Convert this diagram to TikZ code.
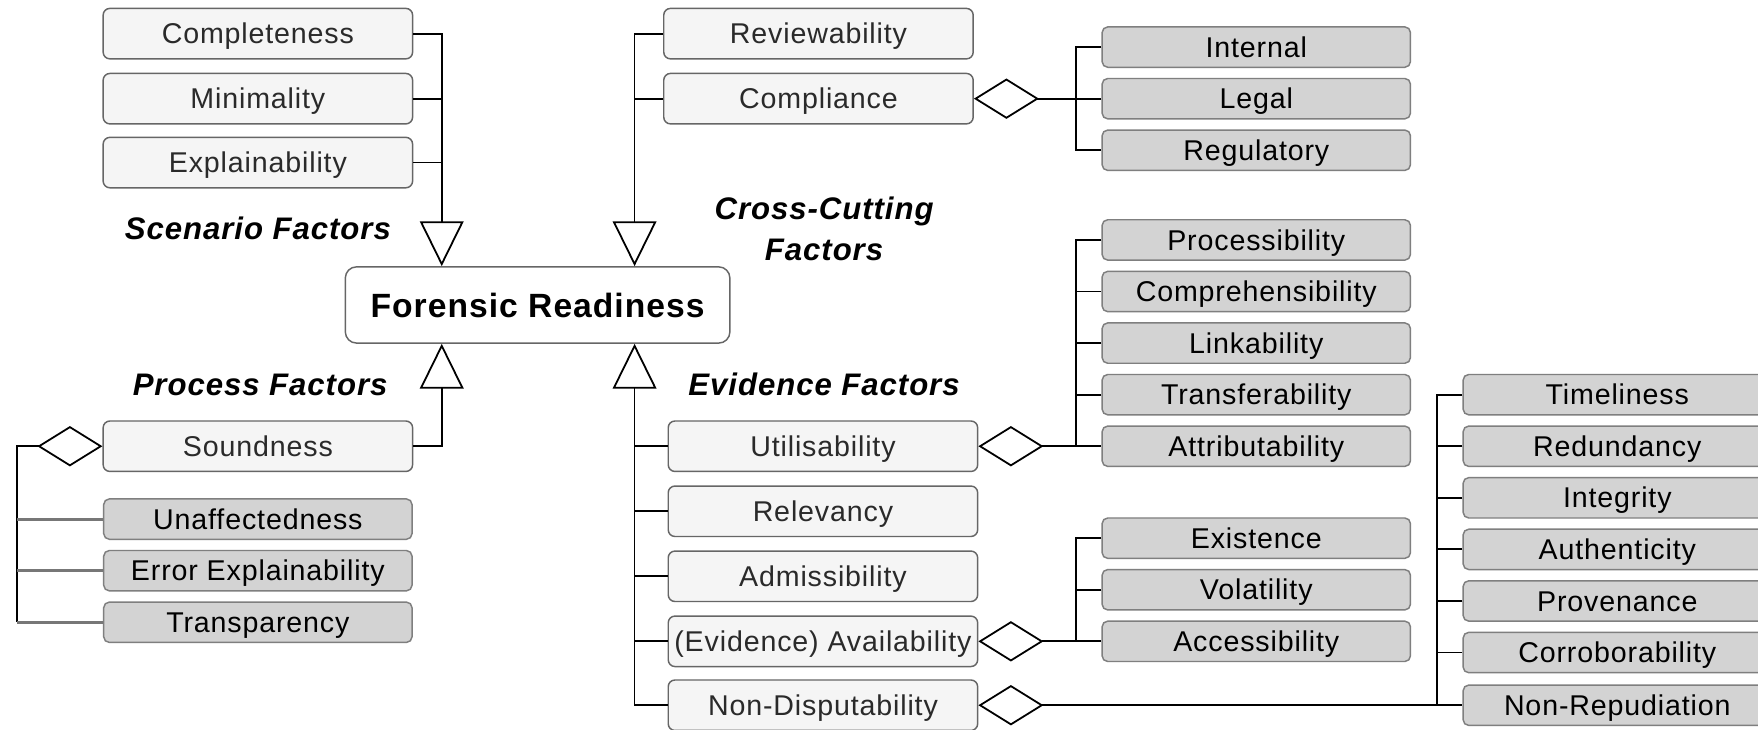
\documentclass[tikz,border=0pt]{standalone}
\usepackage{fontspec}
\setmainfont{Liberation Sans}
\newfontfamily\boxfont[LetterSpace=3]{Liberation Sans}
\usetikzlibrary{arrows.meta}

\definecolor{lightfill}{HTML}{F5F5F5}
\definecolor{lightline}{HTML}{666666}
\definecolor{lighttext}{HTML}{2A2A2A}
\definecolor{darkfill}{HTML}{D3D3D3}
\definecolor{darkline}{HTML}{7F7F7F}
\definecolor{stubgray}{HTML}{777777}

\tikzset{
  lbox/.style={draw=lightline, fill=lightfill, text=lighttext, rounded corners=6pt,
    minimum width=276pt, minimum height=45pt, inner sep=0pt, line width=1.3pt,
    text height=20pt, text depth=2pt,
    font=\boxfont\fontsize{25.5}{28}\selectfont},
  gbox/.style={lbox, draw=darkline, fill=darkfill, text=black,
    minimum width=275pt, minimum height=36pt, rounded corners=5pt},
  frbox/.style={draw=lightline, fill=white, text=black, rounded corners=10pt,
    minimum width=343pt, minimum height=68pt, inner sep=0pt, line width=1.3pt,
    text height=23pt, text depth=1pt,
    font=\boxfont\bfseries\fontsize{30}{32}\selectfont},
  grouplabel/.style={font=\boxfont\bfseries\itshape\fontsize{27.8}{36}\selectfont,
    align=center, inner sep=0pt},
  link/.style={draw=black, line width=1.6pt},
  graystub/.style={draw=stubgray, line width=2.6pt},
  generalise/.style={link, -{Triangle[open, length=40pt, width=39pt]}},
  aggregate/.style={link, {Diamond[open, length=58pt, width=36pt]}-},
}

\begin{document}
\begin{tikzpicture}[x=1pt, y=-1pt]
  \clip (0,0) rectangle (1568,651);
  \fill[white] (0,0) rectangle (1568,651);

  % bracket columns
  \coordinate (sx)  at (394,0);
  \coordinate (cx)  at (566,0);
  \coordinate (bx)  at (960,0);
  \coordinate (bx2) at (1282,0);
  \coordinate (lx)  at (15,0);

  % central concept
  \node[frbox] (fr) at (479.5,272) {Forensic Readiness};

  % scenario factors
  \node[lbox] (comp) at (230,30)  {Completeness};
  \node[lbox] (mini) at (230,88)  {Minimality};
  \node[lbox] (expl) at (230,145) {Explainability};

  % process factors
  \node[lbox] (sound)  at (230,398) {Soundness};
  \node[gbox] (unaff)  at (230,463) {Unaffectedness};
  \node[gbox] (errex)  at (230,509) {Error Explainability};
  \node[gbox] (transp) at (230,555) {Transparency};

  % cross-cutting factors
  \node[lbox] (review) at (730,30) {Reviewability};
  \node[lbox] (compl)  at (730,88) {Compliance};
  \node[gbox] (intern) at (1120.5,42)  {Internal};
  \node[gbox] (legal)  at (1120.5,88)  {Legal};
  \node[gbox] (regul)  at (1120.5,134) {Regulatory};

  % evidence factors
  \node[lbox] (util)    at (734,398) {Utilisability};
  \node[lbox] (relev)   at (734,456) {Relevancy};
  \node[lbox] (admis)   at (734,514) {Admissibility};
  \node[lbox] (avail)   at (734,572) {(Evidence) Availability};
  \node[lbox] (nondisp) at (734,629) {Non-Disputability};

  \node[gbox] (proc)   at (1120.5,214) {Processibility};
  \node[gbox] (compr)  at (1120.5,260) {Comprehensibility};
  \node[gbox] (linkab) at (1120.5,306) {Linkability};
  \node[gbox] (transf) at (1120.5,352) {Transferability};
  \node[gbox] (attr)   at (1120.5,398) {Attributability};

  \node[gbox] (exist)  at (1120.5,480) {Existence};
  \node[gbox] (volat)  at (1120.5,526) {Volatility};
  \node[gbox] (access) at (1120.5,572) {Accessibility};

  \node[gbox] (timel)  at (1442.5,352) {Timeliness};
  \node[gbox] (redun)  at (1442.5,398) {Redundancy};
  \node[gbox] (integ)  at (1442.5,444) {Integrity};
  \node[gbox] (authen) at (1442.5,490) {Authenticity};
  \node[gbox] (proven) at (1442.5,536) {Provenance};
  \node[gbox] (corrob) at (1442.5,582) {Corroborability};
  \node[gbox] (nonrep) at (1442.5,629) {Non-Repudiation};

  % group labels
  \node[grouplabel] (lscen) at (230,204) {Scenario Factors};
  \node[grouplabel] (lproc) at (232,343) {Process Factors};
  \node[grouplabel] (levid) at (735,343) {Evidence Factors};
  \node[grouplabel] (lcross) at (735,204) {Cross-Cutting\\Factors};

  % generalisation: scenario factors
  \draw[generalise] (comp.east) -| (sx |- fr.north);
  \draw[link] (mini.east) -- (mini.east -| sx);
  \draw[link] (expl.east) -- (expl.east -| sx);

  % generalisation: cross-cutting factors
  \draw[generalise] (review.west) -| (cx |- fr.north);
  \draw[link] (compl.west) -- (compl.west -| cx);

  % generalisation: process factors
  \draw[generalise] (sound.east) -| (sx |- fr.south);

  % generalisation: evidence factors
  \draw[generalise] (nondisp.west) -| (cx |- fr.south);
  \draw[link] (util.west)  -- (util.west -| cx);
  \draw[link] (relev.west) -- (relev.west -| cx);
  \draw[link] (admis.west) -- (admis.west -| cx);
  \draw[link] (avail.west) -- (avail.west -| cx);

  % aggregation: compliance
  \draw[aggregate] (compl.east) -- (compl.east -| bx);
  \draw[link] (intern.west) -| (bx |- regul.west) -- (regul.west);
  \draw[link] (legal.west) -- (legal.west -| bx);

  % aggregation: soundness
  \draw[aggregate] (sound.west) -| (lx |- transp.west);
  \draw[graystub] (unaff.west)  -- (unaff.west -| lx);
  \draw[graystub] (errex.west)  -- (errex.west -| lx);
  \draw[graystub] (transp.west) -- (transp.west -| lx);

  % aggregation: utilisability
  \draw[aggregate] (util.east) -- (util.east -| bx);
  \draw[link] (proc.west) -| (bx |- attr.west) -- (attr.west);
  \draw[link] (compr.west)  -- (compr.west -| bx);
  \draw[link] (linkab.west) -- (linkab.west -| bx);
  \draw[link] (transf.west) -- (transf.west -| bx);

  % aggregation: availability
  \draw[aggregate] (avail.east) -- (avail.east -| bx);
  \draw[link] (exist.west) -| (bx |- access.west) -- (access.west);
  \draw[link] (volat.west) -- (volat.west -| bx);

  % aggregation: non-disputability
  \draw[aggregate] (nondisp.east) -- (nondisp.east -| bx2);
  \draw[link] (timel.west) -| (bx2 |- nonrep.west) -- (nonrep.west);
  \draw[link] (redun.west)  -- (redun.west -| bx2);
  \draw[link] (integ.west)  -- (integ.west -| bx2);
  \draw[link] (authen.west) -- (authen.west -| bx2);
  \draw[link] (proven.west) -- (proven.west -| bx2);
  \draw[link] (corrob.west) -- (corrob.west -| bx2);
\end{tikzpicture}
\end{document}
